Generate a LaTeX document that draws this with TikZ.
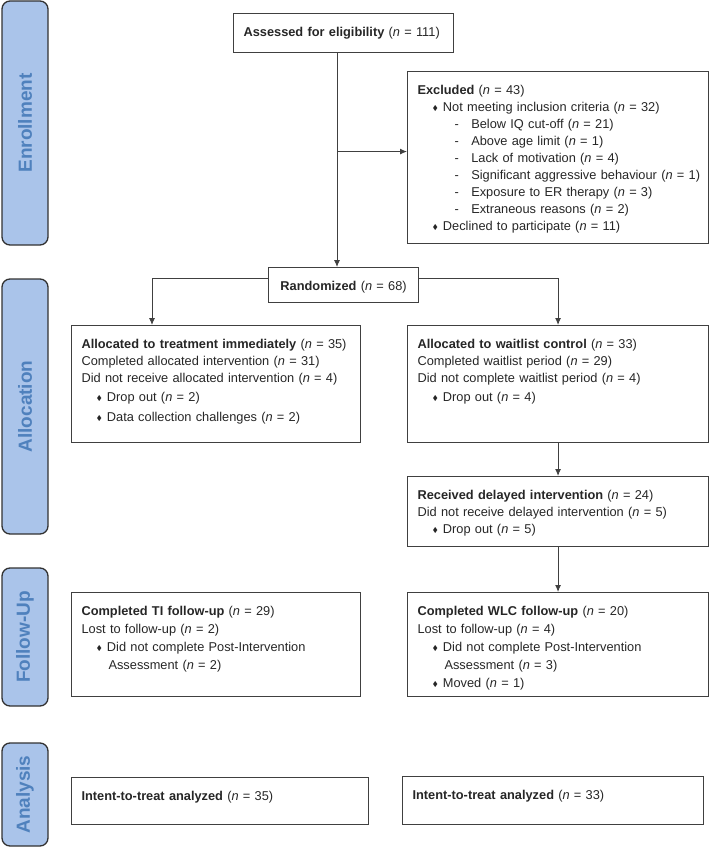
\documentclass[tikz,border=0pt]{standalone}
\usepackage{fontspec}
\usepackage{amssymb}
\setmainfont{Liberation Sans}
\usetikzlibrary{arrows.meta}

\definecolor{sidefill}{RGB}{170,196,234}
\definecolor{sidetext}{RGB}{79,129,189}
\definecolor{sideline}{RGB}{50,50,50}
\definecolor{boxline}{RGB}{64,64,64}

\newcommand{\dia}{\raisebox{1pt}{\fontsize{7}{7}\selectfont$\blacklozenge$}}
\newcommand{\bul}{\hspace*{15pt}\dia\hspace{5pt}}
\newcommand{\nn}{\textit{n}}

\begin{document}
\begin{tikzpicture}[x=1pt, y=-1pt]
    \useasboundingbox (0, 0) rectangle (709, 848);

    \begin{scope}[every node/.style={draw=sideline,line width=1.3pt,fill=sidefill,rounded corners=8pt,rotate=90,minimum height=46pt,text=sidetext,font=\fontsize{19}{19}\selectfont\bfseries}]
        \node[minimum width=244pt] (L_1) at (25, 123) {Enrollment};
        \node[minimum width=255pt] (L_2) at (25, 406.5) {Allocation};
        \node[minimum width=138pt] (L_3) at (25, 637) {Follow-Up};
        \node[minimum width=103pt] (L_4) at (25, 794.5) {Analysis};
    \end{scope}

    % text height = first baseline below the top, text depth = rest of the box
    \begin{scope}[every node/.style={draw=boxline,line width=1.1pt,anchor=north west,align=left,inner xsep=10pt,inner ysep=0pt,text height=22.5pt,text=black!85,font=\fontsize{12.8}{17}\selectfont}]
        \node[text width=200pt, text depth=16.5pt] (A_1) at (233, 13) {\mbox{\textbf{Assessed for eligibility} (\nn{} = 111)}};

        \node[text width=281pt, text depth=149.5pt] (A_2) at (407, 71) {\textbf{Excluded} (\nn{} = 43)\\
            \bul Not meeting inclusion criteria (\nn{} = 32)\\
            \hspace*{37pt}-\hspace{12.5pt}Below IQ cut-off (\nn{} = 21)\\
            \hspace*{37pt}-\hspace{12.5pt}Above age limit (\nn{} = 1)\\
            \hspace*{37pt}-\hspace{12.5pt}Lack of motivation (\nn{} = 4)\\
            \mbox{\hspace*{37pt}-\hspace{12.5pt}Significant aggressive behaviour (\nn{} = 1)}\\
            \hspace*{37pt}-\hspace{12.5pt}Exposure to ER therapy (\nn{} = 3)\\
            \hspace*{37pt}-\hspace{12.5pt}Extraneous reasons (\nn{} = 2)\\
            \bul Declined to participate (\nn{} = 11)};

        \node[text width=130pt, text depth=12.5pt, align=center] (B_1) at (268, 267) {\textbf{Randomized} (\nn{} = 68)};

        \node[text width=269pt, text depth=94.5pt] (C_1) at (71, 325) {\textbf{Allocated to treatment immediately} (\nn{} = 35)\\
            Completed allocated intervention (\nn{} = 31)\\
            Did not receive allocated intervention (\nn{} = 4)\\[2pt]
            \bul Drop out (\nn{} = 2)\\[3pt]
            \bul Data collection challenges (\nn{} = 2)};

        \node[text width=281pt, text depth=94.5pt] (C_2) at (407, 325) {\textbf{Allocated to waitlist control} (\nn{} = 33)\\
            Completed waitlist period (\nn{} = 29)\\
            Did not complete waitlist period (\nn{} = 4)\\[2pt]
            \bul Drop out (\nn{} = 4)};

        \node[text width=281pt, text depth=47.5pt] (D_2) at (407, 476) {\textbf{Received delayed intervention} (\nn{} = 24)\\
            Did not receive delayed intervention (\nn{} = 5)\\
            \bul Drop out (\nn{} = 5)};

        \node[text width=269pt, text depth=81.5pt] (E_1) at (71, 592) {\textbf{Completed TI follow-up} (\nn{} = 29)\\[1pt]
            Lost to follow-up (\nn{} = 2)\\[1pt]
            \bul Did not complete Post-Intervention\\[1pt]
            \hspace*{27pt}Assessment (\nn{} = 2)};

        \node[text width=281pt, text depth=81.5pt] (E_2) at (407, 592) {\textbf{Completed WLC follow-up} (\nn{} = 20)\\[1pt]
            Lost to follow-up (\nn{} = 4)\\[1pt]
            \bul Did not complete Post-Intervention\\[1pt]
            \hspace*{27pt}Assessment (\nn{} = 3)\\[1pt]
            \bul Moved (\nn{} = 1)};

        \node[text width=277pt, text depth=24.5pt] (F_1) at (71, 777) {\textbf{Intent-to-treat analyzed} (\nn{} = 35)};
        \node[text width=281pt, text depth=25.5pt] (F_2) at (402, 776) {\textbf{Intent-to-treat analyzed} (\nn{} = 33)};
    \end{scope}

    \begin{scope}[every edge/.style={draw=boxline,line width=0.9pt,-{Latex[length=7pt,width=6pt]}}]
        \coordinate (J_1) at ([xshift=104pt]A_1.south west);  % trunk is left of the box centre
        \coordinate (J_2) at ([yshift=6pt]A_2.west);
        \coordinate (J_3) at ([yshift=7pt]B_1.west);
        \coordinate (J_4) at ([xshift=81pt]C_1.north west);
        \coordinate (J_5) at ([yshift=7pt]B_1.east);

        \path (J_1) edge (J_1 |- B_1.north);
        \path (J_1 |- J_2) edge (J_2);

        \path (J_3) edge[to path={-| (\tikztotarget)}] (J_4);
        \path (J_5) edge[to path={-| (\tikztotarget)}] (C_2.north);

        \path (C_2) edge (D_2);
        \path (D_2) edge (E_2);
    \end{scope}
\end{tikzpicture}
\end{document}
